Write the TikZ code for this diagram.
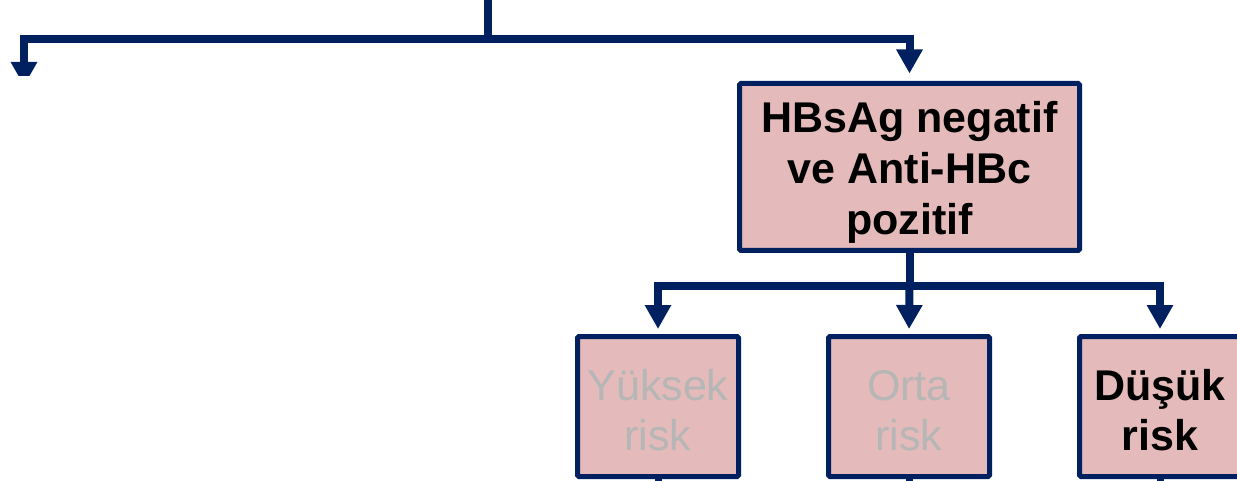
\documentclass[tikz,border=0pt]{standalone}
\usepackage{fontspec}
\setmainfont{Liberation Sans}
\usetikzlibrary{arrows.meta}

\definecolor{navy}{RGB}{0,32,96}
\definecolor{rosefill}{RGB}{228,186,186}
\definecolor{fadedtext}{RGB}{182,182,182}

\tikzset{
  conn/.style={draw=navy, line width=8pt},
  arrowconn/.style={conn, -{Triangle[width=25pt,length=24pt]}},
  box/.style={draw=navy, fill=rosefill, line width=5pt, rounded corners=1.5pt, inner sep=0pt},
  mainbox/.style={box, minimum width=340pt, minimum height=167pt},
  riskbox/.style={box, minimum width=161pt, minimum height=140pt},
  boxtext/.style={align=center, inner sep=0pt},
  maintext/.style={boxtext, font=\fontsize{43}{51}\selectfont\bfseries},
  activetext/.style={boxtext, text=black, font=\fontsize{43}{50}\selectfont\bfseries},
  fadedtext/.style={boxtext, text=fadedtext, font=\fontsize{43}{50}\selectfont}
}

\begin{document}
\begin{tikzpicture}[x=1pt,y=-1pt]
  \clip (0,0) rectangle (1237,481);

  % boxes
  \node[mainbox] (main) at (909.5,167) {};
  \node[riskbox] (high) at (658,406.5) {};
  \node[riskbox] (mid) at (909,406.5) {};
  \node[riskbox] (low) at (1160,406.5) {};

  % box captions
  \node[maintext] (maintxt) at ([yshift=-5.5pt]main.center) {HBsAg negatif\\ve Anti-HBc\\pozitif};
  \node[fadedtext] (hightxt) at ([yshift=-4pt]high.center) {Yüksek\\risk};
  \node[fadedtext] (midtxt) at ([yshift=-4pt]mid.center) {Orta\\risk};
  \node[activetext] (lowtxt) at ([yshift=-4pt]low.center) {Düşük\\risk};

  % junction points
  \coordinate (top) at (488,0);
  \coordinate (hub) at (488,39);
  \coordinate (leftend) at (24,86);
  \coordinate (split) at (909.5,286);

  % upper branching
  \draw[conn] (top) -- (hub);
  \draw[arrowconn, shorten >=7.5pt] (hub) -| (main.north);
  \begin{scope}
    \clip (0,0) rectangle (492,76);
    \draw[arrowconn] (hub) -| (leftend);
  \end{scope}

  % lower branching
  \draw[conn] (main.south) -- (split);
  \draw[arrowconn, shorten >=5pt] (split) -| (high.north);
  \draw[arrowconn, shorten >=5pt] (split) -- (mid.north);
  \draw[arrowconn, shorten >=5pt] (split) -| (low.north);

  % continuing lines below the risk boxes
  \draw[conn, line width=7pt] (high.south) -- ++(0,20);
  \draw[conn, line width=7pt] (mid.south) -- ++(0,20);
  \draw[conn, line width=7pt] (low.south) -- ++(0,20);
\end{tikzpicture}
\end{document}
